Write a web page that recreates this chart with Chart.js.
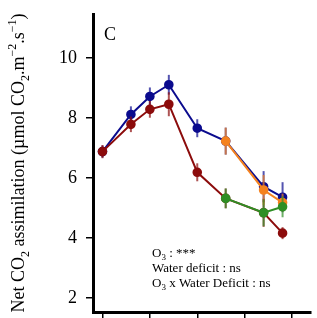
<!DOCTYPE html>
<html>
<head>
<meta charset="utf-8">
<script src="https://cdn.jsdelivr.net/npm/chart.js@4"></script>
<style>
html,body{margin:0;padding:0;background:#fff;overflow:hidden;}
canvas{display:block;}
</style>
</head>
<body>
<canvas id="c" width="317" height="318"></canvas>
<script>
// ---- data ----
const days = [0, 6, 10, 14, 20, 26, 34, 38];
const xTicks = [0, 10, 20, 30, 40];
const yTicks = [2, 4, 6, 8, 10];
const controlVals = [6.88, 8.12, 8.72, 9.11, 7.66, 7.23, 5.71, 5.36];
const controlErr  = [0.20, 0.27, 0.30, 0.33, 0.30, 0.45, 0.52, 0.50];
const ozoneVals   = [6.88, 7.79, 8.29, 8.46, 6.19, 5.32, 4.84, 4.16];
const ozoneErr    = [0.22, 0.26, 0.28, 0.40, 0.30, 0.33, 0.47, 0.20];
const deficitVals = [null, null, null, null, null, 7.23, 5.60, 5.18];
const deficitErr  = [null, null, null, null, null, 0.45, 0.50, 0.30];
const bothVals    = [null, null, null, null, null, 5.32, 4.84, 5.04];
const bothErr     = [null, null, null, null, null, 0.33, 0.45, 0.35];
const panelLabel = "C";
const statLines = [
  [["O", "n"], ["3", "sub"], [" : ***", "n"]],
  [["Water deficit : ns", "n"]],
  [["O", "n"], ["3", "sub"], [" x Water Deficit : ns", "n"]]
];
const yTitle = [["Net CO", "n"], ["2", "sub"], [" assimilation (\u00b5mol CO", "n"], ["2", "sub"], [".m", "n"], ["\u22122", "sup"], [".s", "n"], ["\u22121", "sup"], [")", "n"]];

const SERIF = "'Liberation Serif', 'Times New Roman', serif";

function pts(vals) {
  return days.map((d, i) => ({x: d, y: vals[i]}));
}

function ds(label, vals, errs, color, order) {
  return {
    label, data: pts(vals), errors: errs,
    borderColor: color, backgroundColor: color,
    pointBackgroundColor: color, pointBorderColor: color,
    pointRadius: 3.8, borderWidth: 2, tension: 0, spanGaps: false, order
  };
}

function drawRich(ctx, segs, x, y, size, align) {
  const fontFor = t => (t === "n" ? size : Math.round(size * 0.68)) + "px " + SERIF;
  let total = 0;
  for (const [txt, t] of segs) { ctx.font = fontFor(t); total += ctx.measureText(txt).width; }
  let cx = align === "center" ? x - total / 2 : x;
  ctx.textAlign = "left";
  ctx.textBaseline = "alphabetic";
  for (const [txt, t] of segs) {
    ctx.font = fontFor(t);
    const dy = t === "sub" ? size * 0.25 : (t === "sup" ? -size * 0.42 : 0);
    ctx.fillText(txt, cx, y + dy);
    cx += ctx.measureText(txt).width;
  }
}

const errorBars = {
  id: "errorBars",
  afterDatasetDraw(chart, args) {
    const d = chart.data.datasets[args.index];
    const ys = chart.scales.y, xs = chart.scales.x;
    const ctx = chart.ctx;
    ctx.save();
    ctx.strokeStyle = d.borderColor;
    ctx.globalAlpha = 0.7;
    ctx.lineWidth = 2;
    d.data.forEach((p, i) => {
      const e = d.errors[i];
      if (p.y == null || e == null) return;
      const px = xs.getPixelForValue(p.x);
      ctx.beginPath();
      ctx.moveTo(px, ys.getPixelForValue(p.y - e));
      ctx.lineTo(px, ys.getPixelForValue(p.y + e));
      ctx.stroke();
    });
    ctx.restore();
  }
};

const annotations = {
  id: "annotations",
  afterDraw(chart) {
    const ctx = chart.ctx;
    const a = chart.chartArea;
    ctx.save();
    ctx.fillStyle = "#000";
    // panel label
    ctx.font = "18px " + SERIF;
    ctx.textAlign = "left";
    ctx.textBaseline = "alphabetic";
    ctx.fillText(panelLabel, a.left + 11, 40);
    // statistics
    statLines.forEach((segs, i) => drawRich(ctx, segs, 152, 257 + i * 15, 13, "left"));
    // y title
    ctx.translate(24, (a.top + a.bottom) / 2);
    ctx.rotate(-Math.PI / 2);
    drawRich(ctx, yTitle, 0, 0, 18, "center");
    ctx.restore();
  }
};

new Chart(document.getElementById("c"), {
  type: "line",
  data: {
    datasets: [
      ds("Control", controlVals, controlErr, "#0b0b8e", 4),
      ds("O3", ozoneVals, ozoneErr, "#8c0c0c", 3),
      ds("Water deficit", deficitVals, deficitErr, "#f5821f", 2),
      ds("O3 x Water deficit", bothVals, bothErr, "#2f8f25", 1)
    ]
  },
  options: {
    responsive: false,
    animation: false,
    devicePixelRatio: 1,
    layout: {padding: {top: 14, right: 0, bottom: 0, left: 0}},
    plugins: {legend: {display: false}, tooltip: {enabled: false}},
    scales: {
      x: {
        type: "linear", min: -2, max: 44,
        afterBuildTicks: s => { s.ticks = xTicks.map(v => ({value: v})); },
        afterFit: s => { s.height = 6; s.paddingLeft = 0; s.paddingRight = 0; },
        ticks: {display: false},
        grid: {drawOnChartArea: false, drawTicks: true, tickLength: 6, color: "#000", lineWidth: 1.5},
        border: {display: true, color: "#000", width: 3}
      },
      y: {
        type: "linear", min: 1.53, max: 11.47,
        afterBuildTicks: s => { s.ticks = yTicks.map(v => ({value: v})); },
        afterFit: s => { s.width = 93; s.paddingTop = 0; s.paddingBottom = 0; },
        ticks: {color: "#000", padding: 9, font: {family: SERIF, size: 18}},
        grid: {drawOnChartArea: false, drawTicks: true, tickLength: 7, color: "#000", lineWidth: 1.5},
        border: {display: true, color: "#000", width: 3}
      }
    }
  },
  plugins: [errorBars, annotations]
});
</script>
</body>
</html>
